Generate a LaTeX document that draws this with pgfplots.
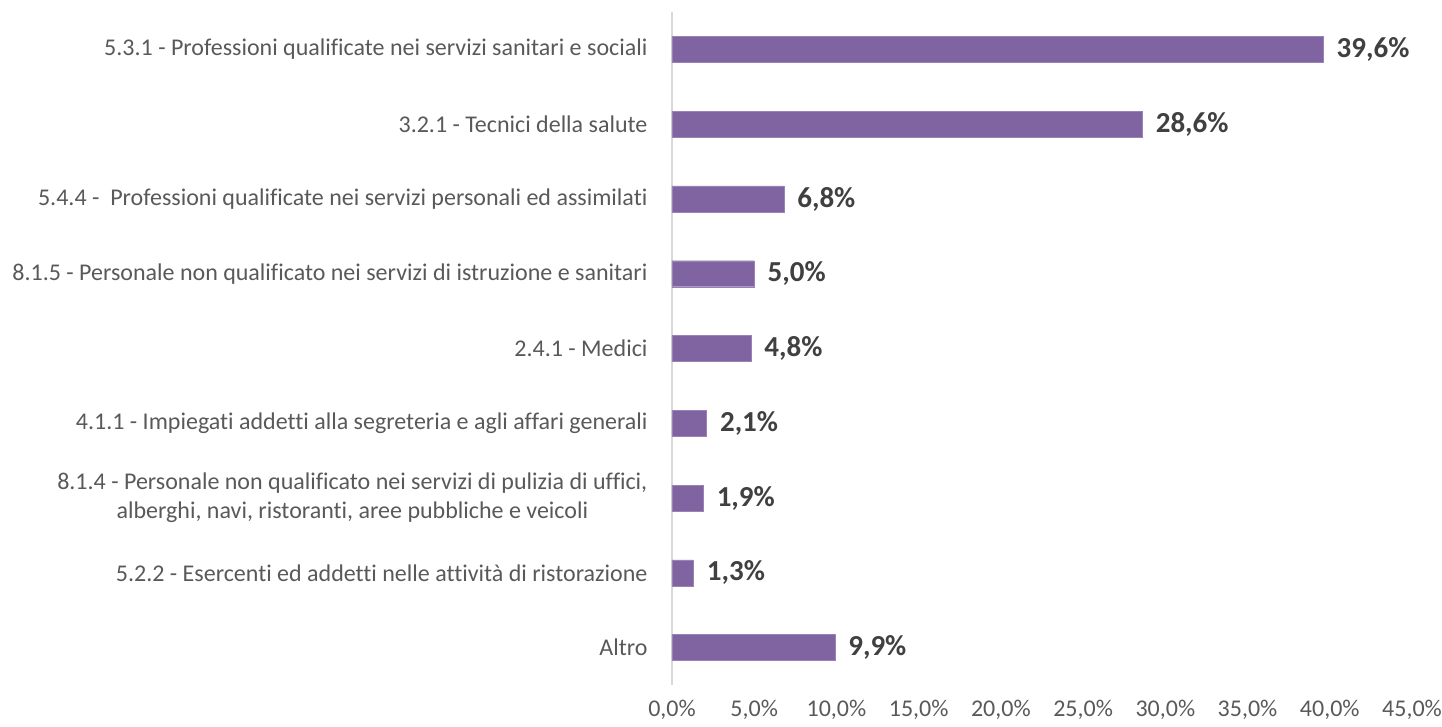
\documentclass[border=0pt]{standalone}
\usepackage{pgfplots}
\pgfplotsset{compat=1.18}
\usepackage{fontspec}
\setmainfont{Carlito}[Ligatures=CommonOff]
\definecolor{barc}{HTML}{8064A2}
\definecolor{txt}{HTML}{595959}
\definecolor{val}{HTML}{404040}
\definecolor{axc}{HTML}{D9D9D9}
\begin{document}
\begin{tikzpicture}[x=1pt,y=1pt]
\useasboundingbox (-672,-41) rectangle (770,685);
\begin{axis}[
  at={(0,0)}, anchor=south west,
  scale only axis, width=740pt, height=673pt,
  xbar, bar width=26pt,
  xmin=0, xmax=45, ymin=0.5, ymax=9.5, y dir=reverse,
  ytick={1,...,9},
  yticklabels={
    {5.3.1 - Professioni qualificate nei servizi sanitari e sociali},
    {3.2.1 - Tecnici della salute},
    {5.4.4 -\ \ Professioni qualificate nei servizi personali ed assimilati},
    {8.1.5 - Personale non qualificato nei servizi di istruzione e sanitari},
    {2.4.1 - Medici},
    {4.1.1 - Impiegati addetti alla segreteria e agli affari generali},
    {8.1.4 - Personale non qualificato nei servizi di pulizia di uffici,\\alberghi, navi, ristoranti, aree pubbliche e veicoli},
    {5.2.2 - Esercenti ed addetti nelle attività di ristorazione},
    {Altro}},
  yticklabel style={align=center, font=\fontsize{24}{29}\selectfont, text=txt, xshift=-21pt},
  xtick={0,5,...,45},
  xticklabel={\pgfmathprintnumber[fixed,fixed zerofill,precision=1,use comma]{\tick}\%},
  xticklabel style={font=\fontsize{24}{29}\selectfont, text=txt, yshift=-12pt},
  /pgf/number format/assume math mode=true,
  major tick length=0pt,
  axis lines*=left,
  x axis line style={draw=none},
  y axis line style={axc, line width=1.2pt},
  nodes near coords={\pgfmathprintnumber[fixed,fixed zerofill,precision=1,use comma]{\pgfplotspointmeta}\%},
  nodes near coords style={font=\bfseries\fontsize{29}{34}\selectfont, text=val, xshift=10pt, anchor=west},
  point meta=explicit,
]
\addplot[fill=barc, draw=barc!80!white] table[x=v, y=c, meta=v] {
c v
1 39.6
2 28.6
3 6.8
4 5.0
5 4.8
6 2.1
7 1.9
8 1.3
9 9.9
};
\end{axis}
\end{tikzpicture}
\end{document}
